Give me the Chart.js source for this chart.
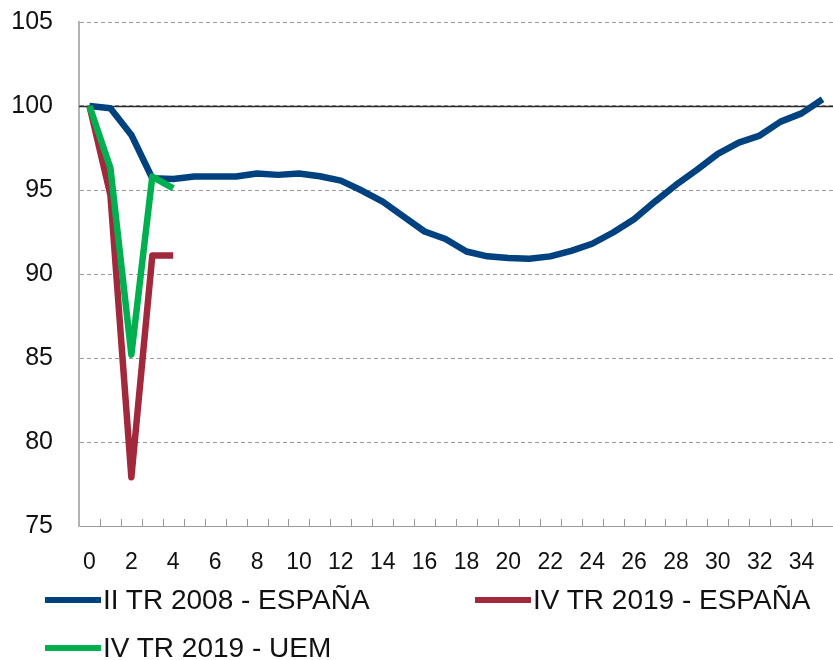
<!DOCTYPE html>
<html lang="es">
<head>
<meta charset="utf-8">
<title>Evolución comparada</title>
<script src="https://cdn.jsdelivr.net/npm/chart.js@4.4.1/dist/chart.umd.min.js"></script>
<style>
  html, body { margin: 0; padding: 0; background: #fff; }
  #caja { position: relative; width: 833px; height: 660px; }
  #leyenda { position: absolute; left: 0; top: 0; width: 833px; height: 660px; pointer-events: none;
    font-family: "Liberation Sans", Arial, Helvetica, sans-serif; font-size: 28px; color: #111; }
  .item { position: absolute; display: flex; align-items: center; height: 32px; line-height: 32px; white-space: nowrap; }
  .item .raya { display: inline-block; width: 56px; height: 6px; margin-right: 2px; }
</style>
</head>
<body>
<div id="caja">
  <canvas id="grafico"></canvas>
  <div id="leyenda"></div>
</div>
<script>
// trimestres desde el inicio de cada episodio
const trimestres = [0, 1, 2, 3, 4, 5, 6, 7, 8, 9, 10, 11, 12, 13, 14, 15, 16, 17,
  18, 19, 20, 21, 22, 23, 24, 25, 26, 27, 28, 29, 30, 31, 32, 33, 34, 35];

// II TR 2008 - ESPAÑA
const crisis2008 = [100, 99.86, 98.28, 95.7, 95.66, 95.8, 95.8, 95.8, 95.98, 95.9,
  95.98, 95.82, 95.56, 94.97, 94.31, 93.42, 92.53, 92.08, 91.34, 91.05,
  90.95, 90.91, 91.05, 91.38, 91.8, 92.47, 93.26, 94.31, 95.3, 96.2,
  97.15, 97.82, 98.24, 99.07, 99.56, 100.4];

// IV TR 2019 - ESPAÑA
const covidEspana = [100, 94.7, 77.9, 91.1, 91.1];

// IV TR 2019 - UEM
const covidUEM = [100, 96.3, 85.2, 95.8, 95.1];

const nombres = ['II TR 2008 - ESPAÑA', 'IV TR 2019 - ESPAÑA', 'IV TR 2019 - UEM'];
const colores = ['#00427f', '#a2283c', '#00b050'];
const referencia = 100;

// línea de referencia en 100 y pequeñas marcas del eje X hacia dentro
const extras = {
  id: 'extras',
  beforeDatasetsDraw(chart) {
    const { ctx, chartArea: a, scales: { x, y } } = chart;
    ctx.save();
    const yr = Math.round(y.getPixelForValue(referencia)) + 0.5;
    ctx.strokeStyle = '#2b2b2b';
    ctx.lineWidth = 1.3;
    ctx.beginPath();
    ctx.moveTo(a.left, yr);
    ctx.lineTo(a.right, yr);
    ctx.stroke();

    ctx.strokeStyle = '#999';
    ctx.lineWidth = 1;
    ctx.beginPath();
    for (let i = 1; i < trimestres.length; i++) {
      const px = Math.round((x.getPixelForValue(i - 1) + x.getPixelForValue(i)) / 2) + 0.5;
      ctx.moveTo(px, a.bottom);
      ctx.lineTo(px, a.bottom - 7);
    }
    ctx.stroke();
    ctx.restore();
  }
};

const ctx = document.getElementById('grafico');
const series = [crisis2008, covidEspana, covidUEM];
const orden = [3, 2, 1];

new Chart(ctx, {
  type: 'line',
  data: {
    labels: trimestres,
    datasets: series.map((d, i) => ({
      label: nombres[i],
      data: d,
      borderColor: colores[i],
      backgroundColor: colores[i],
      borderWidth: 6.5,
      borderJoinStyle: 'round',
      pointRadius: 0,
      tension: 0,
      fill: false,
      order: orden[i]
    }))
  },
  options: {
    responsive: true,
    maintainAspectRatio: false,
    animation: false,
    layout: { padding: { top: 22, right: 0, bottom: 80, left: 0 } },
    plugins: {
      legend: { display: false },
      tooltip: { enabled: false }
    },
    scales: {
      x: {
        offset: true,
        grid: { display: true, drawOnChartArea: false, drawTicks: true, tickLength: 18, tickColor: 'rgba(0,0,0,0)', color: 'rgba(0,0,0,0)' },
        border: { display: true, color: '#9a9a9a', width: 1 },
        ticks: {
          autoSkip: false,
          maxRotation: 0,
          padding: 5,
          color: '#111',
          font: { family: '"Liberation Sans", Arial, sans-serif', size: 23 },
          callback: (v, i) => (i % 2 === 0 ? trimestres[i] : '')
        },
        afterFit: (s) => { s.height = 54; }
      },
      y: {
        min: 75,
        max: 105,
        grid: { color: '#9a9a9a', lineWidth: 1, drawTicks: true, tickLength: 22, tickColor: 'rgba(0,0,0,0)' },
        border: { display: true, color: '#b3b3b3', width: 2, dash: [4, 3] },
        ticks: {
          stepSize: 5,
          padding: 4,
          color: '#111',
          font: { family: '"Liberation Sans", Arial, sans-serif', size: 25 }
        },
        afterFit: (s) => { s.width = 79; }
      }
    }
  },
  plugins: [extras]
});

// leyenda en dos columnas, como en el original
const posiciones = [[45, 584], [475, 584], [45, 632]];
const leyenda = document.getElementById('leyenda');
nombres.forEach((n, i) => {
  const item = document.createElement('div');
  item.className = 'item';
  item.style.left = posiciones[i][0] + 'px';
  item.style.top = posiciones[i][1] + 'px';
  const raya = document.createElement('span');
  raya.className = 'raya';
  raya.style.background = colores[i];
  const texto = document.createElement('span');
  texto.textContent = n;
  item.appendChild(raya);
  item.appendChild(texto);
  leyenda.appendChild(item);
});
</script>
</body>
</html>
